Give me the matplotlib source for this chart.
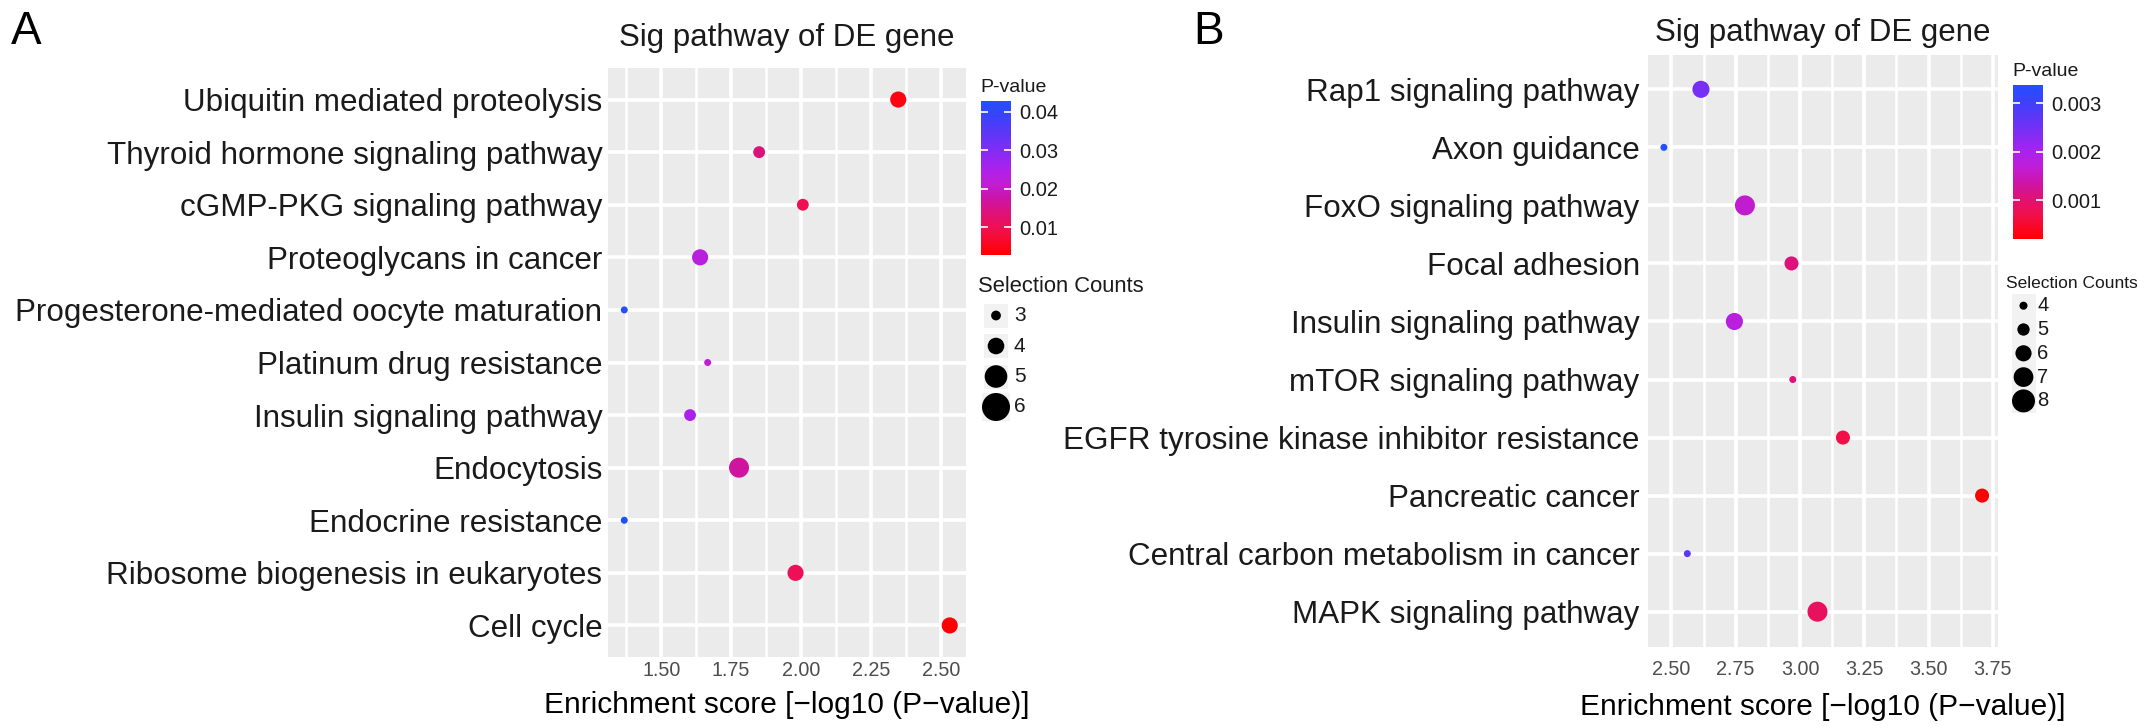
import numpy as np
import matplotlib
matplotlib.use("Agg")
import matplotlib.pyplot as plt
from matplotlib.colors import LinearSegmentedColormap, Normalize
from matplotlib.cm import ScalarMappable
from matplotlib.patches import Rectangle
from matplotlib.ticker import MultipleLocator

plt.rcParams["font.family"] = ["Liberation Sans", "DejaVu Sans"]

# ---- panel A data (top row first) ----
a_terms = ["Ubiquitin mediated proteolysis", "Thyroid hormone signaling pathway",
           "cGMP-PKG signaling pathway", "Proteoglycans in cancer",
           "Progesterone-mediated oocyte maturation", "Platinum drug resistance",
           "Insulin signaling pathway", "Endocytosis", "Endocrine resistance",
           "Ribosome biogenesis in eukaryotes", "Cell cycle"]
a_score = [2.347, 1.850, 2.006, 1.639, 1.368, 1.666, 1.603, 1.778, 1.368, 1.980, 2.531]
a_counts = [5, 4, 4, 5, 3, 3, 4, 6, 3, 5, 5]
a_xticks = [1.50, 1.75, 2.00, 2.25, 2.50]
a_pticks = [0.01, 0.02, 0.03, 0.04]
a_size_breaks = [3, 4, 5, 6]

# ---- panel B data (top row first) ----
b_terms = ["Rap1 signaling pathway", "Axon guidance", "FoxO signaling pathway",
           "Focal adhesion", "Insulin signaling pathway", "mTOR signaling pathway",
           "EGFR tyrosine kinase inhibitor resistance", "Pancreatic cancer",
           "Central carbon metabolism in cancer", "MAPK signaling pathway"]
b_score = [2.615, 2.471, 2.786, 2.967, 2.745, 2.972, 3.167, 3.708, 2.562, 3.068]
b_counts = [7, 4, 8, 6, 7, 4, 6, 6, 4, 8]
b_xticks = [2.50, 2.75, 3.00, 3.25, 3.50, 3.75]
b_pticks = [0.001, 0.002, 0.003]
b_size_breaks = [4, 5, 6, 7, 8]

W, H = 2150, 726
TITLE = "Sig pathway of DE gene"
XLABEL = "Enrichment score [\u2212log10 (P\u2212value)]"

# red (small p) -> violet -> blue (large p), as seen in the figure
cmap = LinearSegmentedColormap.from_list("pval", [
    (0.00, "#FF0000"), (0.15, "#F20F48"), (0.27, "#DE1278"), (0.36, "#CC14A6"),
    (0.47, "#C01ED8"), (0.57, "#A822EE"), (0.70, "#7A2EF5"), (0.85, "#4A3CF8"),
    (1.00, "#2050FF")])


def diam_px(c, cmin, cmax):
    # area-style size scale, range 1..6 like scale_size()
    r = (np.sqrt(c) - np.sqrt(cmin)) / (np.sqrt(cmax) - np.sqrt(cmin))
    return 4.4 + 2.6 * (1 + 5 * r)


def box(x0, y0, x1, y1):
    return [x0 / W, 1 - y1 / H, (x1 - x0) / W, (y1 - y0) / H]


def panel(fig, rect, terms, score, counts, xticks, ypad, xpad, lpad, title_pad):
    ax = fig.add_axes(box(*rect))
    ax.set_facecolor("#EBEBEB")
    score = np.asarray(score)
    counts = np.asarray(counts)
    pvals = 10 ** (-score)
    y = np.arange(len(terms))[::-1]
    norm = Normalize(pvals.min(), pvals.max())
    d = diam_px(counts, counts.min(), counts.max())
    ax.scatter(score, y, s=(d * 0.72) ** 2, c=pvals, cmap=cmap, norm=norm,
               edgecolors="none", zorder=3)
    r = score.max() - score.min()
    ax.set_xlim(score.min() - 0.05 * r, score.max() + 0.05 * r)
    ax.set_ylim(-0.6, len(terms) - 0.4)
    ax.set_xticks(xticks)
    ax.set_xticklabels([f"{v:.2f}" for v in xticks])
    ax.xaxis.set_minor_locator(MultipleLocator(0.125))
    ax.set_yticks(y)
    ax.set_yticklabels(terms)
    ax.grid(which="major", color="white", lw=2.6)
    ax.grid(which="minor", axis="x", color="white", lw=1.8)
    ax.set_axisbelow(True)
    for s in ax.spines.values():
        s.set_visible(False)
    ax.tick_params(axis="both", which="both", length=0)
    ax.tick_params(axis="y", labelsize=22.6, labelcolor="#1A1A1A", pad=ypad)
    ax.tick_params(axis="x", labelsize=14.2, labelcolor="#4D4D4D", pad=xpad)
    ax.set_xlabel(XLABEL, fontsize=21.5, color="black", labelpad=lpad)
    ax.set_title(TITLE, fontsize=22.5, color="#1A1A1A", pad=title_pad)
    return norm, counts


def colour_legend(fig, norm, ticks, title_xy, bar):
    fig.text(title_xy[0] / W, 1 - title_xy[1] / H, "P-value", fontsize=14,
             color="#1A1A1A", ha="left", va="center")
    cax = fig.add_axes(box(*bar))
    cb = fig.colorbar(ScalarMappable(norm=norm, cmap=cmap), cax=cax)
    cb.outline.set_visible(False)
    cb.set_ticks(ticks)
    cb.set_ticklabels([f"{v:g}" for v in ticks])
    cb.minorticks_off()
    cax.tick_params(which="major", direction="in", length=5, width=1.2,
                    color="white", left=True, right=True, labelsize=14.5,
                    labelcolor="#1A1A1A", pad=6)


def size_legend(fig, breaks, cmin, cmax, rect, title_y, first_y, step,
                key_x, label_x, grow, title_size, label_size):
    x0, y0, x1, y1 = rect
    lax = fig.add_axes(box(*rect))
    lax.set_xlim(x0, x1)
    lax.set_ylim(y1, y0)
    lax.axis("off")
    lax.text(x0, title_y, "Selection Counts", fontsize=title_size,
             color="#1A1A1A", ha="left", va="center")
    for i, c in enumerate(breaks):
        yk = first_y + i * step
        d = diam_px(c, cmin, cmax) * grow
        side = max(24, d)
        lax.add_patch(Rectangle((key_x - side / 2, yk - side / 2), side, side,
                                facecolor="#F2F2F2", edgecolor="none"))
        lax.scatter([key_x], [yk], s=(d * 0.72) ** 2, color="black",
                    edgecolors="none", zorder=3)
        lax.text(label_x, yk, str(c), fontsize=label_size, color="#1A1A1A",
                 ha="left", va="center")


fig = plt.figure(figsize=(W / 100, H / 100), dpi=100)
fig.patch.set_facecolor("white")

# panel A
norm_a, cnt_a = panel(fig, (608, 68, 966, 657), a_terms, a_score, a_counts,
                      a_xticks, ypad=4, xpad=3, lpad=7.5, title_pad=16)
colour_legend(fig, norm_a, a_pticks, (980, 87), (980.7, 101, 1010.6, 254.6))
size_legend(fig, a_size_breaks, cnt_a.min(), cnt_a.max(), (978, 270, 1150, 430),
            287, 315.5, 30.5, 996, 1014, 1.4, 15.8, 15)

# panel B
norm_b, cnt_b = panel(fig, (1648, 54.5, 1998, 646.5), b_terms, b_score, b_counts,
                      b_xticks, ypad=6, xpad=10, lpad=9.5, title_pad=10)
colour_legend(fig, norm_b, b_pticks, (2012, 71), (2012.7, 85, 2043.3, 239.3))
size_legend(fig, b_size_breaks, cnt_b.min(), cnt_b.max(), (2006, 270, 2150, 420),
            284, 305.7, 23.8, 2023.5, 2037, 1.15, 12.5, 14.5)

fig.text(11 / W, 1 - 44 / H, "A", fontsize=33, ha="left", va="baseline")
fig.text(1193 / W, 1 - 44 / H, "B", fontsize=33, ha="left", va="baseline")

fig.savefig("out.png", dpi=100, facecolor="white")
